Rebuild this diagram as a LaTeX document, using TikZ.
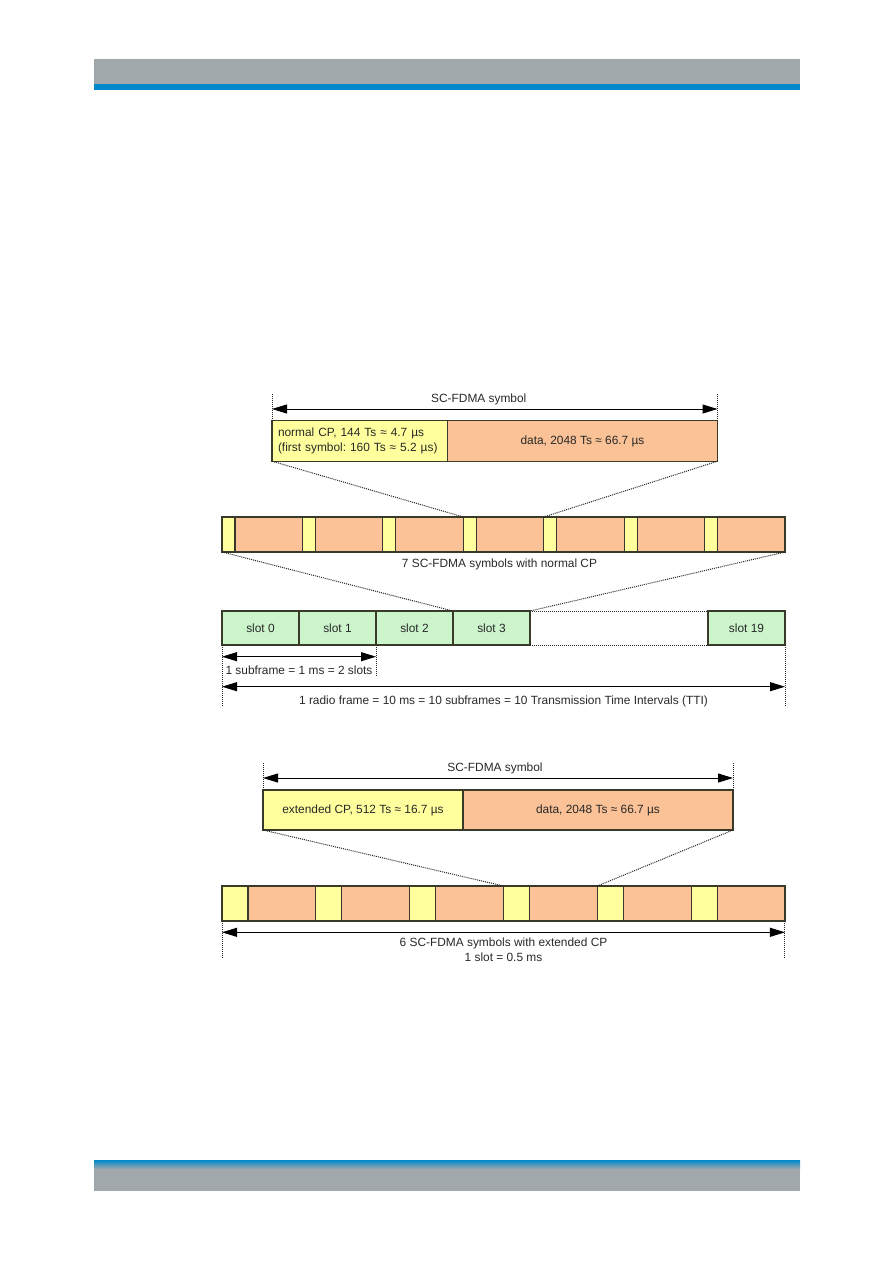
\documentclass[tikz,border=0pt]{standalone}
\usepackage{fontspec}
\setmainfont{Liberation Sans}
\usetikzlibrary{arrows.meta,positioning,calc}
\definecolor{cpyel}{RGB}{255,255,158}
\definecolor{datorg}{RGB}{250,194,150}
\definecolor{slotgrn}{RGB}{204,245,204}
\definecolor{rim}{RGB}{58,58,42}
\definecolor{bargray}{RGB}{160,168,172}
\definecolor{barblue}{RGB}{0,136,204}
\definecolor{ink}{RGB}{40,40,40}
\frenchspacing

\begin{document}
\begin{tikzpicture}[x=1pt,y=-1pt,font=\fontsize{11.9}{15.5}\selectfont,
    cell/.style={draw=rim,line width=1.2pt,inner sep=0pt,outer sep=0pt,anchor=north west,text=ink},
    guide/.style={densely dotted,draw=black!85,line width=1pt},
    dim/.style={{Triangle[length=15pt,width=9pt]}-{Triangle[length=15pt,width=9pt]},line width=1pt},
    tag/.style={anchor=base,text=ink,inner sep=0pt}]
  \useasboundingbox (0,0) rectangle (893,1263);
  % page bars
  \fill[bargray] (94,59) rectangle (800,84);
  \fill[barblue] (94,84) rectangle (800,90);
  \shade[top color=barblue,bottom color=bargray] (94,1160) rectangle (800,1169);
  \fill[bargray] (94,1169) rectangle (800,1191);

  % one symbol, normal CP
  \node[cell,fill=cpyel,minimum height=40.5pt,inner xsep=6pt,text width=163.5pt,align=left] (symcp) at (222+50,420.7)
    {normal CP, 144 Ts ≈ 4.7 µs\\(first symbol: 160 Ts ≈ 5.2 µs)};
  \node[cell,fill=datorg,minimum width=270pt,minimum height=40.5pt] (symdat) at (symcp.north east) {data, 2048 Ts ≈ 66.7 µs};
  \coordinate (sa) at ($(symcp.north west)+(0,-11.7)$);
  \coordinate (sb) at ($(symdat.north east)+(0,-11.7)$);
  \coordinate (st1) at ($(symcp.north west)+(0,-27.7)$);
  \coordinate (st2) at ($(symdat.north east)+(0,-27.7)$);
  \draw[guide] (symcp.north west) -- (st1);
  \draw[guide] (symdat.north east) -- (st2);
  \draw[dim] (sa) -- (sb);
  \node[tag] (symlbl) at ($(sa)!0.5!(sb)+(-16,-7)$) {SC-FDMA symbol};

  % slot with 7 symbols
  \foreach \i in {0,...,6}{
    \node[cell,fill=cpyel,minimum width=13pt,minimum height=35pt] (ncp\i) at ({222+80.43*\i},517) {};
    \node[cell,fill=datorg,minimum width=67.43pt,minimum height=35pt] (ndat\i) at (ncp\i.north east) {};
  }
  \draw[guide] (symcp.south west) -- (ncp3.north west);
  \draw[guide] (symdat.south east) -- (ncp4.north west);
  \node[tag] (ncap) at ($(ncp0.south west)!0.5!(ndat6.south east)+(-4,15)$) {7 SC-FDMA symbols with normal CP};

  % radio frame
  \foreach \i in {0,...,3}
    \node[cell,fill=slotgrn,minimum width=77pt,minimum height=34pt] (slot\i) at ({222+77*\i},611) {slot \i};
  \node[cell,fill=slotgrn,minimum width=77pt,minimum height=34pt] (slot19) at (708,611) {slot 19};
  \draw[guide] (slot3.north east) -- (slot19.north west);
  \draw[guide] (slot3.south east) -- (slot19.south west);
  \draw[guide] (ncp0.south west) -- (slot3.north west);
  \draw[guide] (ndat6.south east) -- (slot3.north east);

  \coordinate (g0) at ($(slot0.south west)+(0,61)$);
  \coordinate (g1) at ($(slot1.south east)+(0,32)$);
  \coordinate (g19) at ($(slot19.south east)+(0,61)$);
  \draw[guide] (slot0.south west) -- (g0);
  \draw[guide] (slot1.south east) -- (g1);
  \draw[guide] (slot19.south east) -- (g19);
  \coordinate (sfa) at ($(slot0.south west)+(0,11.7)$);
  \coordinate (sfb) at ($(slot1.south east)+(0,11.7)$);
  \coordinate (rfa) at ($(slot0.south west)+(0,41.7)$);
  \coordinate (rfb) at ($(slot19.south east)+(0,41.7)$);
  \draw[dim] (sfa) -- (sfb);
  \node[tag] (sflbl) at ($(sfa)!0.5!(sfb)+(0,18)$) {1 subframe = 1 ms = 2 slots};
  \draw[dim] (rfa) -- (rfb);
  \node[tag] (rflbl) at ($(rfa)!0.5!(rfb)+(0,17.5)$) {1 radio frame = 10 ms = 10 subframes = 10 Transmission Time Intervals (TTI)};

  % one symbol, extended CP
  \node[cell,fill=cpyel,minimum width=200pt,minimum height=40pt] (xsymcp) at (263,790) {extended CP, 512 Ts ≈ 16.7 µs};
  \node[cell,fill=datorg,minimum width=270pt,minimum height=40pt] (xsymdat) at (xsymcp.north east) {data, 2048 Ts ≈ 66.7 µs};
  \coordinate (xa) at ($(xsymcp.north west)+(0,-12)$);
  \coordinate (xb) at ($(xsymdat.north east)+(0,-12)$);
  \coordinate (xt1) at ($(xsymcp.north west)+(0,-27)$);
  \coordinate (xt2) at ($(xsymdat.north east)+(0,-27)$);
  \draw[guide] (xsymcp.north west) -- (xt1);
  \draw[guide] (xsymdat.north east) -- (xt2);
  \draw[dim] (xa) -- (xb);
  \node[tag] (xsymlbl) at ($(xa)!0.5!(xb)+(-3,-7)$) {SC-FDMA symbol};

  % slot with 6 symbols
  \foreach \i in {0,...,5}{
    \node[cell,fill=cpyel,minimum width=26pt,minimum height=35pt] (xcp\i) at ({222+93.83*\i},886) {};
    \node[cell,fill=datorg,minimum width=67.83pt,minimum height=35pt] (xdat\i) at (xcp\i.north east) {};
  }
  \draw[guide] (xsymcp.south west) -- (xcp3.north west);
  \draw[guide] (xsymdat.south east) -- (xcp4.north west);
  \coordinate (xg0) at ($(xcp0.south west)+(0,38)$);
  \coordinate (xg5) at ($(xdat5.south east)+(0,38)$);
  \draw[guide] (xcp0.south west) -- (xg0);
  \draw[guide] (xdat5.south east) -- (xg5);
  \coordinate (xsa) at ($(xcp0.south west)+(0,11.3)$);
  \coordinate (xsb) at ($(xdat5.south east)+(0,11.3)$);
  \draw[dim] (xsa) -- (xsb);
  \node[tag] (xcap1) at ($(xsa)!0.5!(xsb)+(0,13.7)$) {6 SC-FDMA symbols with extended CP};
  \node[tag] (xcap2) at ($(xsa)!0.5!(xsb)+(0,28.7)$) {1 slot = 0.5 ms};
\end{tikzpicture}
\end{document}
